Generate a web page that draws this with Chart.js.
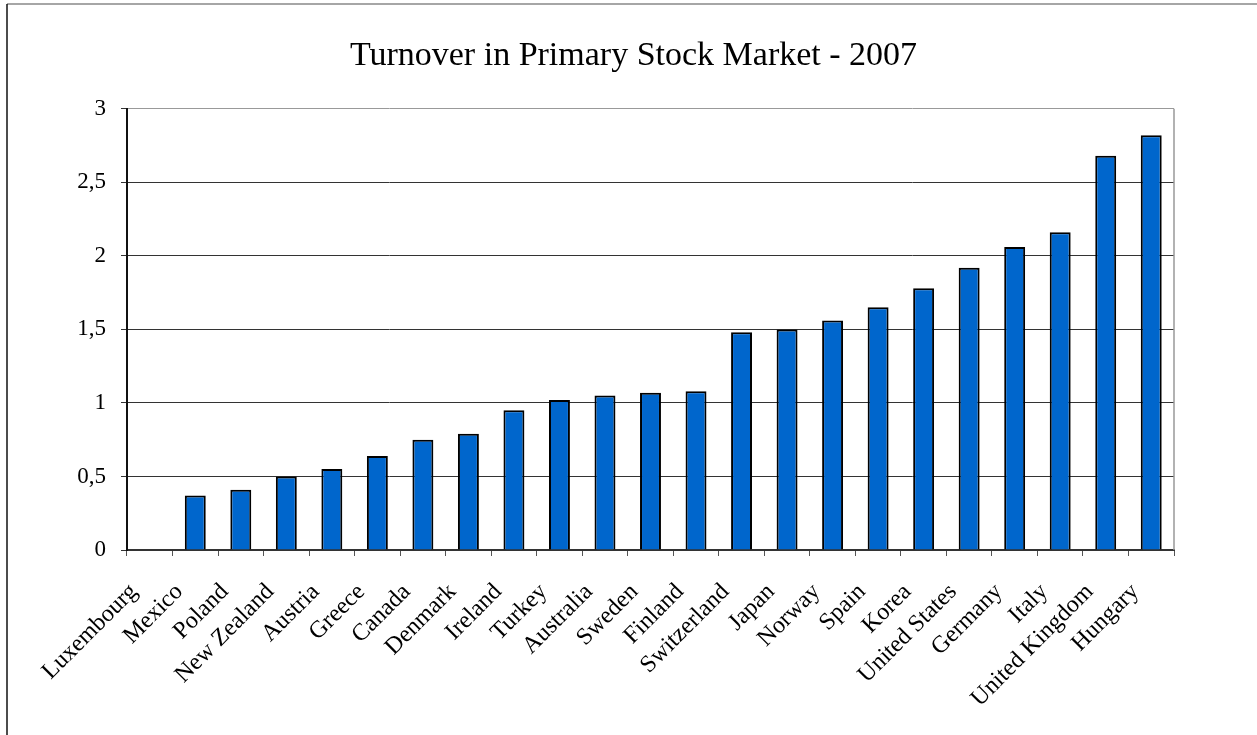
<!DOCTYPE html>
<html>
<head>
<meta charset="utf-8">
<title>Turnover in Primary Stock Market - 2007</title>
<script src="https://cdn.jsdelivr.net/npm/chart.js@4"></script>
<style>
    html, body { margin: 0; padding: 0; background: #fff; }
    #wrap { width: 1257px; height: 735px; position: relative; }
</style>
</head>
<body>
<div id="wrap"><canvas id="turnover"></canvas></div>
<script>
const countries = [
    'Luxembourg', 'Mexico', 'Poland', 'New Zealand', 'Austria', 'Greece',
    'Canada', 'Denmark', 'Ireland', 'Turkey', 'Australia', 'Sweden',
    'Finland', 'Switzerland', 'Japan', 'Norway', 'Spain', 'Korea',
    'United States', 'Germany', 'Italy', 'United Kingdom', 'Hungary'
];
const turnover = [
    0, 0.37, 0.41, 0.5, 0.55, 0.64,
    0.75, 0.79, 0.95, 1.02, 1.05, 1.07,
    1.08, 1.48, 1.5, 1.56, 1.65, 1.78,
    1.92, 2.06, 2.16, 2.68, 2.82
];
const yTicks = [0, 0.5, 1, 1.5, 2, 2.5, 3];

const serif = '"Liberation Serif", "Times New Roman", serif';

// outer frame and the grey right edge of the plot area
const framePlugin = {
    id: 'frame',
    afterDraw(chart) {
        const { ctx, chartArea } = chart;
        ctx.save();
        ctx.lineWidth = 1.5;
        ctx.strokeStyle = '#888';
        ctx.beginPath();
        ctx.moveTo(7, 4);
        ctx.lineTo(1257, 4);
        ctx.stroke();
        ctx.strokeStyle = '#111';
        ctx.beginPath();
        ctx.moveTo(7, 4);
        ctx.lineTo(7, 735);
        ctx.stroke();
        ctx.strokeStyle = '#999';
        ctx.beginPath();
        ctx.moveTo(chartArea.right, chartArea.top);
        ctx.lineTo(chartArea.right, chartArea.bottom);
        ctx.stroke();
        ctx.restore();
    }
};

new Chart(document.getElementById('turnover'), {
    type: 'bar',
    data: {
        labels: countries,
        datasets: [{
            data: turnover,
            backgroundColor: '#0066CC',
            borderColor: '#000',
            borderWidth: 2,
            barPercentage: 0.46,
            categoryPercentage: 1.0
        }]
    },
    options: {
        responsive: true,
        maintainAspectRatio: false,
        animation: false,
        layout: { padding: { left: 10, top: 0, right: 0, bottom: 0 } },
        plugins: {
            legend: { display: false },
            tooltip: { enabled: false },
            title: {
                display: true,
                text: 'Turnover in Primary Stock Market - 2007',
                color: '#000',
                font: { family: serif, size: 34, weight: 'normal', lineHeight: 1.2 },
                padding: { top: 36, bottom: 32 }
            }
        },
        scales: {
            x: {
                afterFit(scale) { scale.height = 185; },
                grid: {
                    offset: true,
                    drawOnChartArea: false,
                    tickLength: 6,
                    color: '#555'
                },
                border: { color: '#333', width: 2 },
                ticks: {
                    autoSkip: false,
                    maxRotation: 45,
                    minRotation: 45,
                    labelOffset: -16,
                    padding: 22,
                    color: '#000',
                    font: { family: serif, size: 24 }
                }
            },
            y: {
                min: 0,
                max: 3,
                afterFit(scale) { scale.width = 117; },
                afterBuildTicks(scale) {
                    scale.ticks = yTicks.map(v => ({ value: v }));
                },
                grid: {
                    color: ctx => ctx.tick && ctx.tick.value === 3 ? '#999' : '#333',
                    lineWidth: 1,
                    tickLength: 6,
                    tickColor: '#333'
                },
                border: { color: '#111', width: 2 },
                ticks: {
                    padding: 15,
                    color: '#000',
                    font: { family: serif, size: 23 },
                    callback: v => String(v).replace('.', ',')
                }
            },
            // empty right-hand axis that only reserves the margin after the plot
            yRight: {
                position: 'right',
                min: 0,
                max: 3,
                afterFit(scale) { scale.width = 83; },
                grid: { display: false },
                border: { display: false },
                ticks: { display: false }
            }
        }
    },
    plugins: [framePlugin]
});
</script>
</body>
</html>
